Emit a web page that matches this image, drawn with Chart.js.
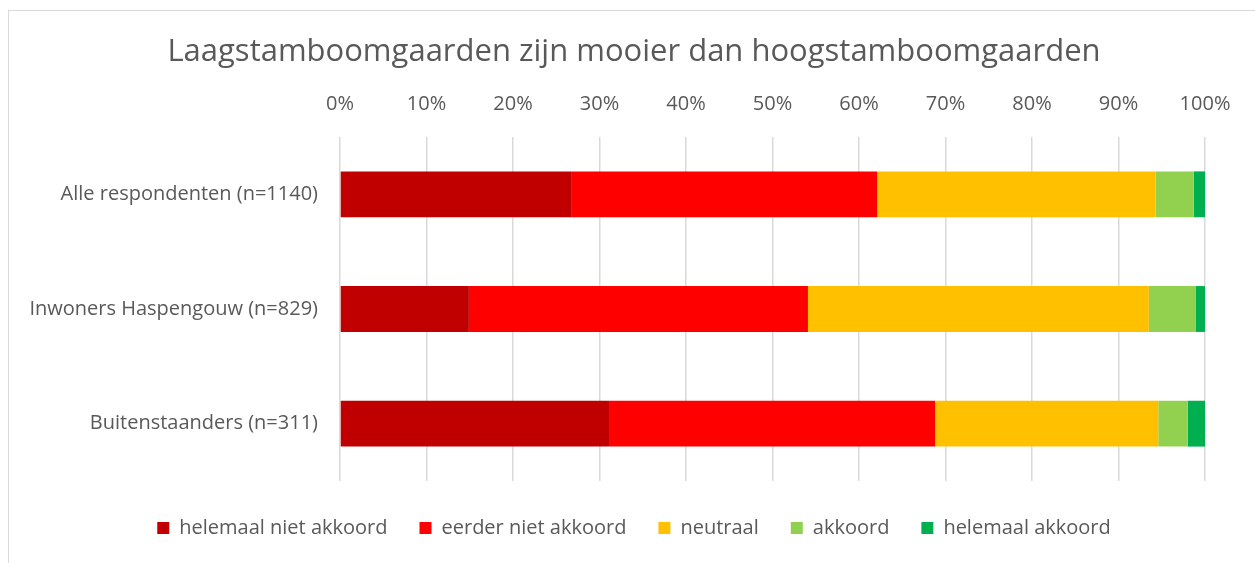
<!DOCTYPE html>
<html>
<head>
<meta charset="utf-8">
<script src="https://cdn.jsdelivr.net/npm/chart.js@4.4.1/dist/chart.umd.min.js"></script>
<style>
  html, body { margin: 0; padding: 0; background: #ffffff; overflow: hidden; }
  .frame { position: absolute; left: 8px; top: 10px; width: 1270px; height: 600px; border: 1px solid #d9d9d9; }
  .chart-container { position: absolute; left: 0; top: 0; width: 1255px; height: 563px; }
</style>
</head>
<body>
<div class="frame"></div>
<div class="chart-container"><canvas id="surveyChart" width="1255" height="563"></canvas></div>
<script>
const categories = ['Alle respondenten (n=1140)', 'Inwoners Haspengouw (n=829)', 'Buitenstaanders (n=311)'];
const seriesNames = ['helemaal niet akkoord', 'eerder niet akkoord', 'neutraal', 'akkoord', 'helemaal akkoord'];
const helemaalNiet = [26.8, 14.9, 31.1];
const eerderNiet = [35.3, 39.2, 37.7];
const neutraal = [32.2, 39.4, 25.8];
const akkoord = [4.4, 5.4, 3.4];
const helemaalAkkoord = [1.3, 1.1, 2.0];
const seriesColors = ['#C00000', '#FF0000', '#FFC000', '#92D050', '#00B050'];

const textColor = '#595959';
const fontFamily = "'Open Sans', 'Liberation Sans', sans-serif";

Chart.defaults.font.family = fontFamily;
Chart.defaults.color = textColor;

const values = [helemaalNiet, eerderNiet, neutraal, akkoord, helemaalAkkoord];
const datasets = values.map((data, i) => ({
  label: seriesNames[i],
  data: data,
  backgroundColor: seriesColors[i],
  borderWidth: 0,
  categoryPercentage: 0.4,
  barPercentage: 1.0
}));

const ctx = document.getElementById('surveyChart').getContext('2d');
new Chart(ctx, {
  type: 'bar',
  data: { labels: categories, datasets: datasets },
  options: {
    indexAxis: 'y',
    responsive: false,
    animation: false,
    layout: { padding: { left: 13, right: 0, top: 0, bottom: 15 } },
    plugins: {
      title: {
        display: true,
        text: 'Laagstamboomgaarden zijn mooier dan hoogstamboomgaarden',
        color: textColor,
        font: { size: 31, weight: 'normal' },
        padding: { top: 34, bottom: 10 }
      },
      legend: {
        position: 'bottom',
        title: { display: true, text: '', font: { size: 5, lineHeight: 1 }, padding: 0 },
        labels: {
          boxWidth: 12,
          boxHeight: 12,
          padding: 32,
          color: textColor,
          font: { size: 20 }
        }
      },
      tooltip: { enabled: false }
    },
    scales: {
      x: {
        position: 'top',
        stacked: true,
        min: 0,
        max: 100,
        ticks: {
          stepSize: 10,
          padding: 21,
          color: textColor,
          font: { size: 20 },
          callback: value => value + '%'
        },
        grid: { color: '#d9d9d9', lineWidth: 1.5, drawTicks: false },
        border: { display: false },
        afterFit: scale => { scale.height = 55.8; }
      },
      y: {
        stacked: true,
        ticks: { padding: 22, color: textColor, font: { size: 20 } },
        grid: { display: false, drawTicks: false },
        border: { display: false },
        afterFit: scale => { scale.width = 327; }
      },
      // empty right-hand axis, only reserves the margin right of the plot
      yRight: {
        type: 'linear',
        axis: 'y',
        position: 'right',
        ticks: { display: false },
        grid: { display: false, drawTicks: false },
        border: { display: false },
        afterFit: scale => { scale.width = 50; }
      }
    }
  }
});
</script>
</body>
</html>
